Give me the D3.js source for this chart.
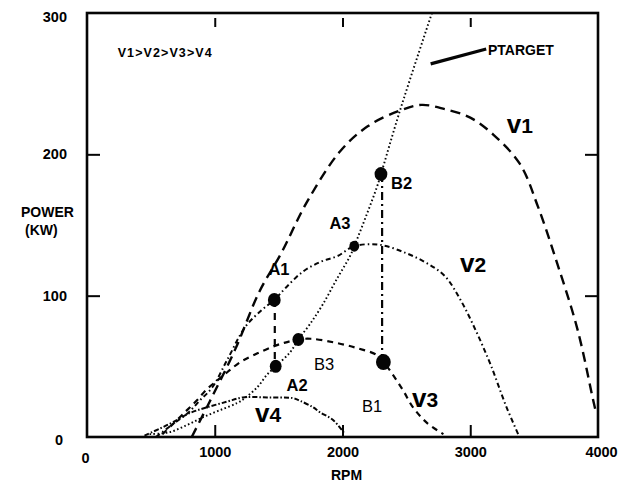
<!DOCTYPE html>
<html>
<head>
<meta charset="utf-8">
<script src="https://cdn.jsdelivr.net/npm/d3@7/dist/d3.min.js"></script>
<style>
  html, body { margin: 0; padding: 0; background: #fff; }
  svg { display: block; font-family: "Liberation Sans", Arial, Helvetica, sans-serif; }
  text { fill: #000; }
</style>
</head>
<body>
<svg id="chart" width="634" height="485"></svg>
<script>
// Power (kW) against engine speed (RPM) at four vehicle speeds, plus the target power line.
const rpmTicks = [0, 1000, 2000, 3000, 4000];
const powerTicks = [0, 100, 200, 300];

const v1Rpm = [820, 960, 1160, 1350, 1520, 1720, 1980, 2200, 2450, 2620, 2800, 3000, 3180, 3390, 3530, 3680, 3840, 3960, 3985];
const v1Kw  = [0, 25, 62, 103, 130, 166, 202, 220, 231, 235, 232, 226, 214, 193, 163, 123, 76, 27, 17];

const v2Rpm = [540, 670, 790, 885, 980, 1100, 1240, 1370, 1466, 1560, 1690, 1830, 1960, 2092, 2290, 2500, 2660, 2800, 2930, 3050, 3160, 3280, 3375];
const v2Kw  = [0, 9, 17, 26, 35, 55, 78, 90, 97, 106, 117, 124, 128, 135, 136, 130, 123, 114, 96, 74, 51, 22, 2];

const v3Rpm = [590, 705, 783, 861, 940, 1020, 1100, 1200, 1330, 1456, 1540, 1654, 1750, 1930, 2110, 2270, 2320, 2372, 2474, 2552, 2661, 2790];
const v3Kw  = [2, 12, 19, 26, 34, 40, 46, 53, 59, 64, 66.5, 69, 69.5, 67, 63, 58, 53, 47, 33, 21, 10, 2];

const v4Rpm = [450, 571, 673, 806, 940, 1096, 1220, 1410, 1610, 1670, 1770, 1824, 1926, 2020];
const v4Kw  = [1, 6, 10.5, 17, 21, 25, 28, 28, 27.5, 25.5, 21, 17.5, 12, 2];

const targetRpm = [490, 650, 783, 908, 1041, 1174, 1237, 1331, 1409, 1477, 1590, 1654, 1746, 1847, 1957, 2059, 2092, 2192, 2270, 2301, 2450, 2700];
const targetKw  = [2, 3.5, 8.5, 14, 19, 24, 27.6, 35, 44, 50, 60, 69, 80, 94, 112, 128, 135, 158, 177, 186, 231, 300];

// Operating points
const pointNames = ["A1", "A2", "B3", "A3", "B2", "B1"];
const pointRpm   = [1466, 1477, 1654, 2092, 2301, 2320];
const pointKw    = [97, 50, 69, 135, 186, 53];

// Vertical shift lines: A1 -> A2 and B2 -> B1
const shiftRpm  = [1470, 2310];
const shiftTop  = [97, 186];
const shiftBase = [50, 53];

const x = d3.scaleLinear().domain([0, 4000]).range([87, 598]);
const y = d3.scaleLinear().domain([0, 300]).range([437, 13]);

const svg = d3.select("#chart");
const ink = "#050505";

const zip = (xs, ys) => xs.map((v, i) => [v, ys[i]]);
const line = d3.line().x(d => x(d[0])).y(d => y(d[1])).curve(d3.curveCatmullRom.alpha(0.5));

const curves = [
  { pts: zip(v1Rpm, v1Kw), dash: "10,6", w: 2.4 },
  { pts: zip(v2Rpm, v2Kw), dash: "5,3,1.5,3", w: 2 },
  { pts: zip(v3Rpm, v3Kw), dash: "6,5", w: 2.2 },
  { pts: zip(v4Rpm, v4Kw), dash: "5,2,1.5,2", w: 2 },
  { pts: zip(targetRpm, targetKw), dash: "1.6,2.4", w: 1.9 }
];

const plot = svg.append("g");
plot.selectAll("path.curve").data(curves).join("path")
  .attr("class", "curve")
  .attr("d", d => line(d.pts))
  .attr("fill", "none")
  .attr("stroke", ink)
  .attr("stroke-width", d => d.w)
  .attr("stroke-dasharray", d => d.dash);

// vertical shift lines
const shiftDash = ["7,6", "8,4,2,4"];
plot.selectAll("line.shift").data(shiftRpm).join("line")
  .attr("class", "shift")
  .attr("x1", d => x(d)).attr("x2", d => x(d))
  .attr("y1", (d, i) => y(shiftTop[i])).attr("y2", (d, i) => y(shiftBase[i]))
  .attr("stroke", ink).attr("stroke-width", 2.2)
  .attr("stroke-dasharray", (d, i) => shiftDash[i]);

// operating point markers
const dotR = [7, 6.5, 6.5, 5.5, 7, 8];
plot.selectAll("ellipse.pt").data(pointNames).join("ellipse")
  .attr("class", "pt")
  .attr("cx", (d, i) => x(pointRpm[i]))
  .attr("cy", (d, i) => y(pointKw[i]))
  .attr("rx", (d, i) => dotR[i] - 0.6)
  .attr("ry", (d, i) => dotR[i])
  .attr("fill", ink);

// point labels (position in data units, centred, baseline)
const labelText = ["A1", "A2", "A3", "B2", "B3", "B1"];
const labelRpm  = [1503, 1644, 1980, 2462, 1855, 2231];
const labelKw   = [114.6, 32.5, 147, 175.5, 47.4, 17.7];
const labelBold = [true, true, true, true, false, false];
svg.selectAll("text.plabel").data(labelText).join("text")
  .attr("class", "plabel")
  .attr("x", (d, i) => x(labelRpm[i]))
  .attr("y", (d, i) => y(labelKw[i]))
  .attr("text-anchor", "middle")
  .attr("font-size", 16.5)
  .attr("font-weight", (d, i) => labelBold[i] ? "bold" : "normal")
  .text(d => d);

// speed curve labels
const speedNames = ["1", "2", "3", "4"];
const speedRpm = [3389, 3022, 2646, 1417];
const speedKw  = [215, 116.7, 21, 10.6];
const sl = svg.selectAll("text.vlabel").data(speedNames).join("text")
  .attr("class", "vlabel")
  .attr("x", (d, i) => x(speedRpm[i]))
  .attr("y", (d, i) => y(speedKw[i]))
  .attr("text-anchor", "middle")
  .attr("font-weight", "bold");
sl.append("tspan").attr("font-size", 26).text("v");
sl.append("tspan").attr("font-size", 21).text(d => d);

// frame
svg.append("rect")
  .attr("x", x(0)).attr("y", y(300))
  .attr("width", x(4000) - x(0)).attr("height", y(0) - y(300))
  .attr("fill", "none").attr("stroke", ink).attr("stroke-width", 2.6);

// inner tick marks
const tickStyle = g => { g.select(".domain").remove(); g.selectAll(".tick line").attr("stroke", ink).attr("stroke-width", 2); };
svg.append("g").attr("transform", `translate(0,${y(0)})`)
  .call(d3.axisBottom(x).tickValues([1000, 2000, 3000]).tickSize(-12).tickFormat(""))
  .call(tickStyle);
svg.append("g").attr("transform", `translate(0,${y(300) + 5})`)
  .call(d3.axisTop(x).tickValues([1000, 2000, 3000]).tickSize(-9).tickFormat(""))
  .call(tickStyle);
svg.append("g").attr("transform", `translate(${x(0)},0)`)
  .call(d3.axisLeft(y).tickValues([100, 200]).tickSize(-13).tickFormat(""))
  .call(tickStyle);
svg.append("g").attr("transform", `translate(${x(4000)},0)`)
  .call(d3.axisRight(y).tickValues([100, 200]).tickSize(-13).tickFormat(""))
  .call(tickStyle);

// tick labels
const labelStyle = g => {
  g.select(".domain").remove();
  g.selectAll(".tick line").remove();
  g.selectAll(".tick text")
    .attr("font-family", "'Liberation Sans', Arial, sans-serif")
    .attr("font-size", 14.5).attr("font-weight", "bold").attr("fill", "#000");
};
const xl = svg.append("g").attr("transform", `translate(0,${y(0)})`)
  .call(d3.axisBottom(x).tickValues(rpmTicks).tickSize(0).tickPadding(10).tickFormat(d3.format("d")))
  .call(labelStyle);
xl.selectAll(".tick text").filter(d => d === 0).attr("x", -2).attr("y", 16);
xl.selectAll(".tick text").filter(d => d === 4000).attr("x", 3);

const yl = svg.append("g").attr("transform", `translate(${x(0)},0)`)
  .call(d3.axisLeft(y).tickValues(powerTicks).tickSize(0).tickPadding(20).tickFormat(d3.format("d")))
  .call(labelStyle);
yl.selectAll(".tick text").filter(d => d === 300).attr("dy", "0.6em");
yl.selectAll(".tick text").filter(d => d === 0).attr("x", -24).attr("dy", "0.5em");

// axis titles
svg.append("text").attr("x", x(2000) + 4).attr("y", 480)
  .attr("text-anchor", "middle").attr("font-size", 14).attr("font-weight", "bold").text("RPM");
svg.append("text").attr("x", 21).attr("y", 217)
  .attr("font-size", 14).attr("font-weight", "bold").text("POWER");
svg.append("text").attr("x", 25).attr("y", 235)
  .attr("font-size", 14).attr("font-weight", "bold").text("(KW)");

// speed ordering note
svg.append("text").attr("x", x(240)).attr("y", y(269))
  .attr("font-size", 12.5).attr("font-weight", "bold").attr("letter-spacing", 1.1)
  .text("V1>V2>V3>V4");

// target power callout
const calloutRpm = [2690, 3125];
const calloutKw = [264, 274.5];
svg.append("line")
  .attr("x1", x(calloutRpm[0])).attr("y1", y(calloutKw[0]))
  .attr("x2", x(calloutRpm[1])).attr("y2", y(calloutKw[1]))
  .attr("stroke", ink).attr("stroke-width", 3.2);
svg.append("text").attr("x", x(3139)).attr("y", y(270))
  .attr("font-size", 14).attr("font-weight", "bold").text("PTARGET");
</script>
</body>
</html>
